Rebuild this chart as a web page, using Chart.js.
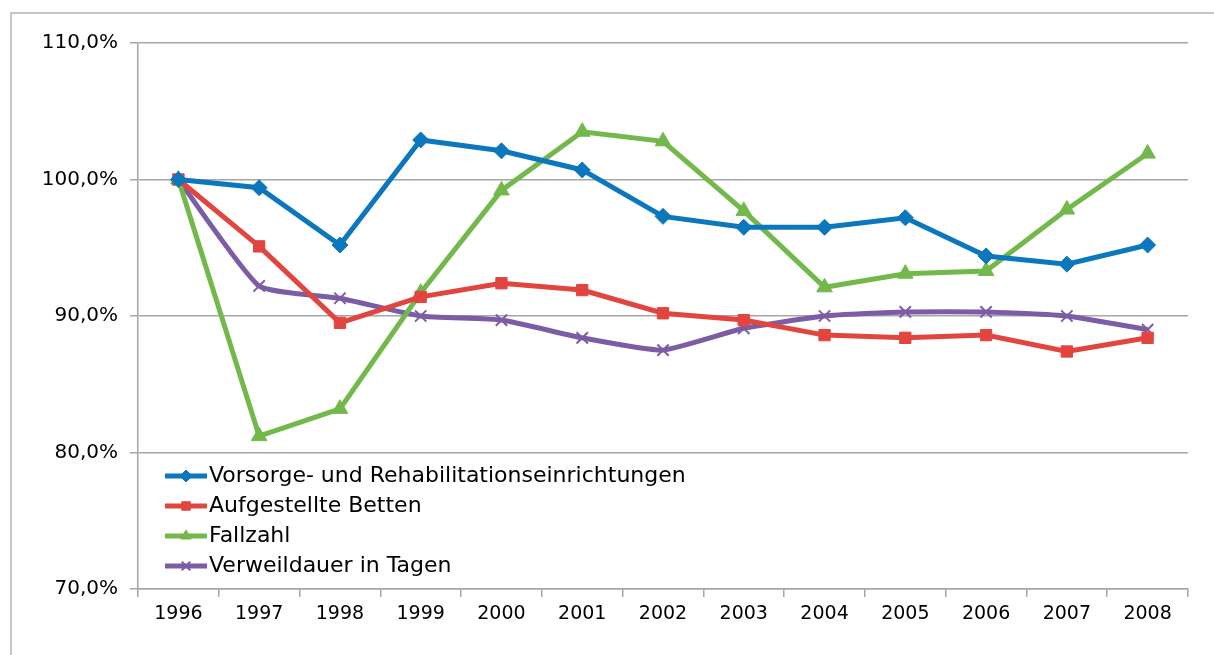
<!DOCTYPE html>
<html>
<head>
<meta charset="utf-8">
<script src="https://cdn.jsdelivr.net/npm/chart.js@4/dist/chart.umd.min.js"></script>
<style>
  html, body { margin: 0; padding: 0; background: #fff; overflow: hidden; }
  #wrap { width: 1214px; height: 655px; position: relative; overflow: hidden; }
  canvas { display: block; }
</style>
</head>
<body>
<div id="wrap"><canvas id="chart"></canvas></div>
<script>
// Jahre
const years = ['1996', '1997', '1998', '1999', '2000', '2001', '2002', '2003', '2004', '2005', '2006', '2007', '2008'];

// Werte in Prozent (1996 = 100)
const einrichtungen = [100, 99.4, 95.2, 102.9, 102.1, 100.7, 97.3, 96.5, 96.5, 97.2, 94.4, 93.8, 95.2];
const betten = [100, 95.1, 89.5, 91.4, 92.4, 91.9, 90.2, 89.7, 88.6, 88.4, 88.6, 87.4, 88.4];
const fallzahl = [100, 81.2, 83.2, 91.7, 99.2, 103.5, 102.8, 97.7, 92.1, 93.1, 93.3, 97.8, 101.9];
const verweildauer = [100, 92.2, 91.3, 90.0, 89.7, 88.4, 87.5, 89.1, 90.0, 90.3, 90.3, 90.0, 89.0];

const yTicks = [70, 80, 90, 100, 110];

const FONT = '"DejaVu Sans", sans-serif';

// Rahmen oben und links
const framePlugin = {
    id: 'frame',
    beforeDraw(chart) {
        const c = chart.ctx;
        c.save();
        c.strokeStyle = '#b4b4b4';
        c.lineWidth = 1.5;
        c.beginPath();
        c.moveTo(11, 660);
        c.lineTo(11, 13);
        c.lineTo(1220, 13);
        c.stroke();
        c.restore();
    }
};

// Legende innerhalb der Zeichenfläche
const legendPlugin = {
    id: 'innerLegend',
    afterDraw(chart) {
        const c = chart.ctx;
        const x0 = 165, y0 = 476, step = 30;
        c.save();
        chart.data.datasets.forEach((ds, i) => {
            const y = y0 + i * step;
            c.strokeStyle = ds.borderColor;
            c.fillStyle = ds.borderColor;
            c.lineWidth = 5;
            c.beginPath();
            c.moveTo(x0, y);
            c.lineTo(x0 + 42, y);
            c.stroke();
            c.lineWidth = ds.pointBorderWidth;
            Chart.helpers.drawPoint(c, {
                pointStyle: ds.pointStyle,
                radius: 6,
                rotation: 0,
                borderWidth: ds.pointBorderWidth
            }, x0 + 21, y);
            c.fillStyle = '#000';
            c.font = '22px ' + FONT;
            c.textBaseline = 'middle';
            c.textAlign = 'left';
            c.fillText(ds.label, x0 + 44, y);
        });
        c.restore();
    }
};

function serie(label, data, color, style, radius, extra) {
    return Object.assign({
        label: label,
        data: data,
        borderColor: color,
        backgroundColor: color,
        pointBackgroundColor: color,
        pointBorderColor: color,
        borderWidth: 5,
        pointStyle: style,
        pointRadius: radius,
        pointBorderWidth: 1,
        tension: 0
    }, extra || {});
}

const ctx = document.getElementById('chart').getContext('2d');
const chart = new Chart(ctx, {
    type: 'line',
    data: {
        labels: years,
        datasets: [
            serie('Vorsorge- und Rehabilitationseinrichtungen', einrichtungen, '#0b77bd', 'rectRot', 8),
            serie('Aufgestellte Betten', betten, '#e2453f', 'rect', 8),
            serie('Fallzahl', fallzahl, '#72b84a', 'triangle', 9),
            serie('Verweildauer in Tagen', verweildauer, '#7c5ca5', 'crossRot', 8, { pointBorderWidth: 2, tension: 0.15 })
        ]
    },
    options: {
        responsive: true,
        maintainAspectRatio: false,
        animation: false,
        layout: { padding: { left: 0, right: 26, top: 43, bottom: 0 } },
        plugins: {
            legend: { display: false },
            tooltip: { enabled: false }
        },
        scales: {
            x: {
                offset: true,
                grid: {
                    offset: true,
                    drawOnChartArea: false,
                    color: '#a6a6a6',
                    tickLength: 8,
                    lineWidth: 1.5
                },
                border: { color: '#a6a6a6', width: 1.5 },
                ticks: {
                    color: '#000',
                    font: { family: FONT, size: 19 },
                    padding: 6,
                    maxRotation: 0
                },
                afterFit(scale) { scale.height = 66; }
            },
            y: {
                min: 70,
                max: 110,
                afterBuildTicks(scale) {
                    scale.ticks = yTicks.map(v => ({ value: v }));
                },
                grid: {
                    color: '#a6a6a6',
                    lineWidth: 1.5,
                    tickLength: 8
                },
                border: { color: '#a6a6a6', width: 1.5 },
                ticks: {
                    color: '#000',
                    font: { family: FONT, size: 20 },
                    padding: 12,
                    callback: v => v.toFixed(1).replace('.', ',') + '%'
                },
                afterFit(scale) { scale.width = 138; }
            }
        }
    },
    plugins: [framePlugin, legendPlugin]
});
</script>
</body>
</html>
